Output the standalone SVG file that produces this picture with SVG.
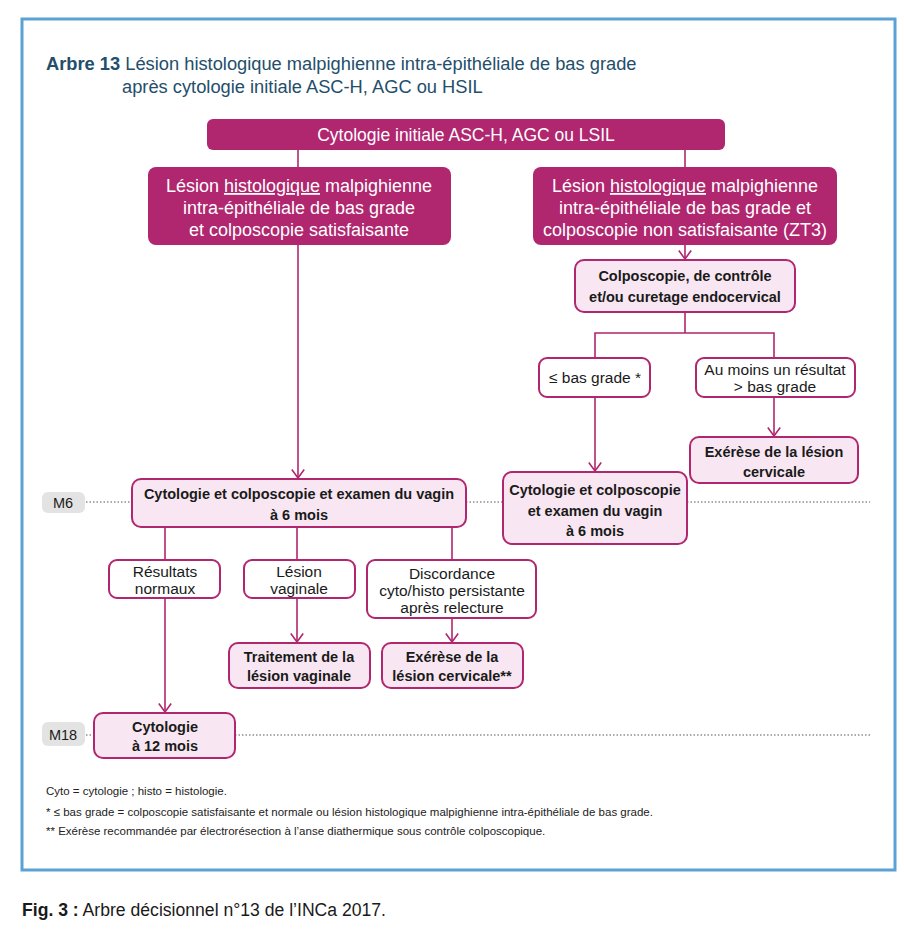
<svg xmlns="http://www.w3.org/2000/svg" width="904" height="938" viewBox="0 0 904 938">
<style>
.dk{fill:#b0266f}
.lt{fill:#f8e7f2;stroke:#b0266f;stroke-width:2}
.wh{fill:#ffffff;stroke:#b0266f;stroke-width:2}
.tw{font-family:"Liberation Sans",Arial,sans-serif;font-size:18px;fill:#ffffff;text-anchor:middle}
.tb{font-family:"Liberation Sans",Arial,sans-serif;font-size:14.5px;font-weight:bold;fill:#1a1a1a;text-anchor:middle}
.tr{font-family:"Liberation Sans",Arial,sans-serif;font-size:15.5px;fill:#1a1a1a;text-anchor:middle}
.ln{fill:none;stroke:#b0266f;stroke-width:1.6}
.dot{fill:none;stroke:#555;stroke-width:1;stroke-dasharray:1.5 2}
.lab{fill:#e3e3e3}
.fn{font-family:"Liberation Sans",Arial,sans-serif;font-size:11.5px;fill:#222}
</style>
<defs>
<marker id="ar" viewBox="0 0 10 14" refX="9" refY="7" markerWidth="10" markerHeight="14" markerUnits="userSpaceOnUse" orient="auto">
<path d="M0.5,0.8 L9,7 L0.5,13.2" fill="none" stroke="#b0266f" stroke-width="1.6"/>
</marker>
</defs>
<rect width="904" height="938" fill="#ffffff"/>
<rect x="22" y="19" width="873" height="851" fill="none" stroke="#5aa2d6" stroke-width="3"/>
<g id="title" font-family="Liberation Sans,Arial,sans-serif" font-size="18.3" fill="#234e6c">
<text x="46" y="70"><tspan font-weight="bold">Arbre 13</tspan> Lésion histologique malpighienne intra-épithéliale de bas grade</text>
<text x="122" y="93">après cytologie initiale ASC-H, AGC ou HSIL</text>
</g>
<g id="connectors">
<path class="ln" d="M298,150 V167"/>
<path class="ln" d="M685,150 V167"/>
<path class="ln" d="M685,245 V259" marker-end="url(#ar)"/>
<path class="ln" d="M685,312 V333 M595,358 V333 H774 V358"/>
<path class="ln" d="M595,397 V471" marker-end="url(#ar)"/>
<path class="ln" d="M774,397 V436" marker-end="url(#ar)"/>
<path class="ln" d="M298,245 V478" marker-end="url(#ar)"/>
<path class="ln" d="M165,527 V560 M297,527 V560 M452,527 V560"/>
<path class="ln" d="M165,598 V712" marker-end="url(#ar)"/>
<path class="ln" d="M297,598 V642" marker-end="url(#ar)"/>
<path class="ln" d="M452,618 V642" marker-end="url(#ar)"/>
<path class="dot" d="M86,502 H132 M466,502 H503 M687,502 H870"/>
<path class="dot" d="M86,735 H94 M235,735 H870"/>
</g>
<g id="n_top">
<rect class="dk" x="207" y="119" width="518" height="31" rx="6"/>
<text class="tw" x="466" y="141" style="font-size:17.5px">Cytologie initiale ASC-H, AGC ou LSIL</text>
</g>
<g id="n_left">
<rect class="dk" x="148" y="167" width="303" height="78" rx="8"/>
<text class="tw" x="299" y="192">Lésion <tspan text-decoration="underline">histologique</tspan> malpighienne</text>
<text class="tw" x="299" y="214">intra-épithéliale de bas grade</text>
<text class="tw" x="299" y="236">et colposcopie satisfaisante</text>
</g>
<g id="n_right">
<rect class="dk" x="533" y="167" width="304" height="78" rx="8"/>
<text class="tw" x="685" y="192">Lésion <tspan text-decoration="underline">histologique</tspan> malpighienne</text>
<text class="tw" x="685" y="214">intra-épithéliale de bas grade et</text>
<text class="tw" x="685" y="236">colposcopie non satisfaisante (ZT3)</text>
</g>
<g id="n_colpo">
<rect class="lt" x="575" y="260" width="220" height="52" rx="9"/>
<text class="tb" x="685" y="281">Colposcopie, de contrôle</text>
<text class="tb" x="685" y="302">et/ou curetage endocervical</text>
</g>
<g id="n_le">
<rect class="wh" x="539" y="358" width="111" height="39" rx="8"/>
<text class="tr" x="595" y="383">≤ bas grade *</text>
</g>
<g id="n_au">
<rect class="wh" x="696" y="358" width="159" height="39" rx="8"/>
<text class="tr" x="775" y="375">Au moins un résultat</text>
<text class="tr" x="775" y="392">&gt; bas grade</text>
</g>
<g id="n_exer1">
<rect class="lt" x="690" y="437" width="168" height="46" rx="9"/>
<text class="tb" x="774" y="457">Exérèse de la lésion</text>
<text class="tb" x="774" y="477">cervicale</text>
</g>
<g id="n_cyto_r">
<rect class="lt" x="503" y="472" width="184" height="72" rx="9"/>
<text class="tb" x="595" y="495">Cytologie et colposcopie</text>
<text class="tb" x="595" y="516">et examen du vagin</text>
<text class="tb" x="595" y="536">à 6 mois</text>
</g>
<g id="m6">
<rect class="lab" x="42" y="492" width="43" height="21" rx="6"/>
<text class="tr" x="63" y="508" style="font-size:14.5px">M6</text>
</g>
<g id="n_cyto_l">
<rect class="lt" x="132" y="479" width="334" height="48" rx="9"/>
<text class="tb" x="299" y="499">Cytologie et colposcopie et examen du vagin</text>
<text class="tb" x="299" y="520">à 6 mois</text>
</g>
<g id="n_norm">
<rect class="wh" x="109" y="560" width="111" height="38" rx="8"/>
<text class="tr" x="165" y="577">Résultats</text>
<text class="tr" x="165" y="594">normaux</text>
</g>
<g id="n_vag">
<rect class="wh" x="244" y="560" width="111" height="38" rx="8"/>
<text class="tr" x="299" y="577">Lésion</text>
<text class="tr" x="299" y="594">vaginale</text>
</g>
<g id="n_disc">
<rect class="wh" x="367" y="560" width="169" height="58" rx="8"/>
<text class="tr" x="452" y="579">Discordance</text>
<text class="tr" x="452" y="596">cyto/histo persistante</text>
<text class="tr" x="452" y="613">après relecture</text>
</g>
<g id="n_trait">
<rect class="lt" x="229" y="643" width="141" height="45" rx="9"/>
<text class="tb" x="299" y="662">Traitement de la</text>
<text class="tb" x="299" y="681">lésion vaginale</text>
</g>
<g id="n_exer2">
<rect class="lt" x="382" y="643" width="141" height="45" rx="9"/>
<text class="tb" x="452" y="662">Exérèse de la</text>
<text class="tb" x="452" y="681">lésion cervicale**</text>
</g>
<g id="m18">
<rect class="lab" x="42" y="722" width="43" height="24" rx="6"/>
<text class="tr" x="63" y="740" style="font-size:14.5px">M18</text>
</g>
<g id="n_cyto12">
<rect class="lt" x="94" y="713" width="141" height="45" rx="9"/>
<text class="tb" x="165" y="732">Cytologie</text>
<text class="tb" x="165" y="751">à 12 mois</text>
</g>
<g id="notes">
<text class="fn" x="46" y="795">Cyto = cytologie ; histo = histologie.</text>
<text class="fn" x="46" y="816">* ≤ bas grade = colposcopie satisfaisante et normale ou lésion histologique malpighienne intra-épithéliale de bas grade.</text>
<text class="fn" x="46" y="835">** Exérèse recommandée par électrorésection à l’anse diathermique sous contrôle colposcopique.</text>
</g>
<g id="caption" font-family="Liberation Sans,Arial,sans-serif" font-size="17.6" fill="#1a1a1a">
<text x="22" y="916"><tspan font-weight="bold">Fig. 3 :</tspan> Arbre décisionnel n°13 de l’INCa 2017.</text>
</g>
</svg>
